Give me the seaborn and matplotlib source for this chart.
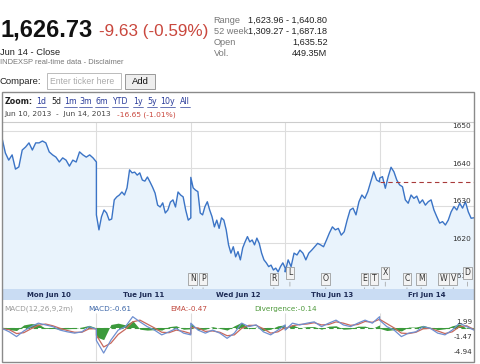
import numpy as np
import pandas as pd
import matplotlib
matplotlib.use("Agg")
import matplotlib.pyplot as plt
import seaborn as sns
from matplotlib.patches import Rectangle
from matplotlib.lines import Line2D

# --- data (S&P 500, 5 day view) ---
day_labels = ["Mon Jun 10", "Tue Jun 11", "Wed Jun 12", "Thu Jun 13", "Fri Jun 14"]

price_mon = [1648.0, 1644.0, 1642.1, 1643.5, 1639.7, 1640.3, 1644.8, 1645.6, 1646.7, 1644.8,
             1646.7, 1646.7, 1647.2, 1646.7, 1644.3, 1643.5, 1642.9, 1641.6, 1642.7, 1642.1,
             1640.5, 1642.1, 1641.6, 1644.3, 1643.5, 1642.9, 1643.5, 1642.7, 1641.6]
price_tue = [1627.5, 1623.5, 1627.0, 1628.8, 1628.0, 1626.1, 1626.4, 1631.5, 1632.3, 1632.8,
             1633.6, 1632.8, 1634.7, 1639.5, 1638.7, 1638.9, 1638.1, 1638.7, 1636.8, 1636.5,
             1637.6, 1636.3, 1634.9, 1633.3, 1630.1, 1629.6, 1630.7, 1628.0, 1628.8, 1630.9,
             1631.5, 1629.6, 1633.6, 1632.8, 1632.3, 1628.8, 1626.1, 1626.7]
price_wed = [1637.5, 1634.7, 1634.1, 1633.7, 1628.0, 1627.5, 1629.7, 1631.0, 1628.8, 1627.0,
             1624.3, 1626.1, 1623.9, 1626.7, 1626.1, 1623.5, 1619.5, 1617.3, 1619.0, 1616.3,
             1617.7, 1615.5, 1618.7, 1620.3, 1621.7, 1620.3, 1620.8, 1619.5, 1621.3, 1619.9,
             1617.3, 1615.5, 1614.7, 1613.7, 1614.1, 1612.8, 1613.3, 1612.3, 1613.7, 1614.7,
             1613.3]
price_thu = [1612.3, 1615.5, 1613.7, 1617.3, 1616.8, 1618.1, 1617.3, 1615.5, 1617.3, 1618.1,
             1619.0, 1619.9, 1619.5, 1619.0, 1620.8, 1622.7, 1624.3, 1623.5, 1623.9, 1622.1,
             1623.0, 1626.1, 1628.8, 1629.3, 1627.5, 1631.0, 1632.8, 1631.9, 1633.7, 1636.3,
             1639.0, 1636.8, 1636.3]
price_fri = [1637.3, 1637.7, 1634.6, 1637.7, 1640.2, 1639.0, 1636.8, 1635.5, 1635.0, 1631.5,
             1630.6, 1632.8, 1631.9, 1632.5, 1630.6, 1631.5, 1630.1, 1631.0, 1631.5, 1628.8,
             1627.0, 1625.3, 1625.7, 1624.8, 1626.1, 1628.3, 1629.7, 1628.8, 1630.6, 1629.3,
             1631.0, 1628.3, 1626.6, 1626.73]
prev_close = 1636.36
price_ticks = [1610, 1620, 1630, 1640, 1650]

macd_vals = [-0.2, -1.0, -2.1, -0.8, 0.2, 1.0, 0.6, 0.2, -0.6, -1.0, -1.3, -1.0, 0.2, -0.4,
             -3.0, -5.9, -2.9, -0.6, 0.2, 2.5, 1.3, 0.2, -0.6, -1.7, -1.0, -0.2, -1.3, -1.7,
             1.0, -0.6, -1.3, -0.6, -1.3, -2.5, -1.3, 1.0, 0.2, 0.6, -1.0, -1.7, -0.6, 0.6,
             -0.6, 1.0, 0.6, 1.0, 1.3, 0.2, 1.0, 1.7, 0.6, 0.2, 1.0, 1.7, 1.0, 2.5,
             1.7, 0.2, -0.6, -2.1, -1.3, -1.0, 0.2, -0.2, -1.3, -1.7, -0.6, 1.0, 0.2, -0.61]
ema_vals = [-0.3, -0.5, -1.4, -1.2, -0.3, 0.5, 0.8, 0.4, -0.2, -0.7, -1.1, -1.1, -0.3, -0.3,
            -1.8, -4.5, -3.6, -1.6, -0.4, 1.3, 1.7, 0.8, -0.1, -1.1, -1.2, -0.6, -0.9, -1.4,
            0.0, -0.1, -0.9, -0.8, -1.1, -1.9, -1.7, -0.2, 0.5, 0.5, -0.3, -1.3, -1.0, 0.0,
            -0.2, 0.4, 0.7, 0.8, 1.1, 0.6, 0.7, 1.3, 1.0, 0.5, 0.7, 1.4, 1.2, 1.9,
            1.9, 0.9, -0.1, -1.3, -1.4, -1.1, -0.3, -0.2, -0.8, -1.4, -1.0, 0.2, 0.4, -0.47]
div_vals = [0.1, -0.5, -0.7, 0.6, 0.9, 0.8, -0.2, -0.2, -0.4, -0.3, -0.2, 0.1, 0.5, -0.1,
            -2.2, -2.8, 0.7, 1.0, 0.6, 1.6, -0.4, -0.6, -0.5, -0.6, 0.2, 0.4, -0.4, -0.3,
            1.0, -0.5, -0.4, 0.2, -0.2, -0.6, 0.4, 1.2, -0.3, 0.1, -0.7, -0.4, 0.4, 0.6,
            -0.4, 0.6, -0.1, 0.2, 0.2, -0.4, 0.3, 0.4, -0.4, -0.3, 0.3, 0.3, -0.2, 0.6,
            -0.2, -0.7, -0.5, -0.8, 0.1, 0.1, 0.5, 0.0, -0.5, -0.3, 0.4, 0.8, -0.2, -0.14]
macd_ticks = [1.99, -1.47, -4.94]

# news flags: letter and time (in trading days since Mon open)
flag_letters = ["N", "P", "R", "L", "O", "E", "T", "X", "C", "M", "W", "V", "D"]
flag_times = [2.02, 2.13, 2.88, 3.05, 3.43, 3.84, 3.94, 4.06, 4.29, 4.44, 4.68, 4.78, 4.93]
raised_flags = {"L", "X", "D"}

zoom_links = ["1d", "5d", "1m", "3m", "6m", "YTD", "1y", "5y", "10y", "All"]

W, H = 480, 364


def rect(x0, y0, x1, y1):
    return [x0 / W, 1 - y1 / H, (x1 - x0) / W, (y1 - y0) / H]


def fx(x):
    return x / W


def fy(y):
    return 1 - y / H


sns.set_theme(style="white")
plt.rcParams["font.family"] = ["DejaVu Sans"]
HDR = ["Liberation Sans", "DejaVu Sans"]

frames = []
for i, vals in enumerate([price_mon, price_tue, price_wed, price_thu, price_fri]):
    frames.append(pd.DataFrame({"t": i + np.linspace(0, 1, len(vals)), "price": vals}))
df = pd.concat(frames, ignore_index=True)

n_per_day = len(macd_vals) // 5
mt = np.concatenate([i + np.linspace(0, 1, n_per_day) for i in range(5)])
mdf = pd.DataFrame({"t": mt, "macd": macd_vals, "ema": ema_vals, "div": div_vals})

fig = plt.figure(figsize=(4.8, 3.64), dpi=100)
fig.patch.set_facecolor("white")

# ---------- page header ----------
fig.text(fx(0), fy(36), "1,626.73", fontsize=17, weight="bold", family=HDR, color="#111")
fig.text(fx(99), fy(36), "-9.63 (-0.59%)", fontsize=12.3, family=HDR, color="#c9473d")
fig.text(fx(0), fy(55), "Jun 14 - Close", fontsize=6.7, family=HDR, color="#222")
fig.text(fx(0), fy(63.5), "INDEXSP real-time data - Disclaimer", fontsize=5.4, family=HDR, color="#777")

info_rows = [("Range", "1,623.96 - 1,640.80"), ("52 week", "1,309.27 - 1,687.18"),
             ("Open", "1,635.52"), ("Vol.", "449.35M")]
for k, (lab, val) in enumerate(info_rows):
    yb = 23 + k * 11
    fig.text(fx(213.5), fy(yb), lab, fontsize=6.6, family=HDR, color="#777")
    fig.text(fx(327.5), fy(yb), val, fontsize=6.6, family=HDR, color="#222", ha="right")

fig.text(fx(0), fy(84), "Compare:", fontsize=6.8, family=HDR, color="#222")
fig.add_artist(Rectangle((fx(47), fy(89)), 74 / W, 16 / H, transform=fig.transFigure,
                         fc="white", ec="#bbbbbb", lw=0.7))
fig.text(fx(50), fy(84), "Enter ticker here", fontsize=6.2, family=HDR, color="#aaaaaa")
fig.add_artist(Rectangle((fx(125), fy(89)), 30 / W, 15 / H, transform=fig.transFigure,
                         fc="#eeeeee", ec="#999999", lw=0.7))
fig.text(fx(140), fy(84), "Add", fontsize=6.8, family=HDR, color="#111", ha="center")

# ---------- chart box ----------
fig.add_artist(Rectangle((fx(2), fy(362)), 472 / W, 270 / H, transform=fig.transFigure,
                         fc="none", ec="#8a8a8a", lw=1.0, zorder=10))

fig.text(fx(4.5), fy(104), "Zoom:", fontsize=5.7, weight="bold", color="#222")
link_x = [36, 51, 64, 79, 95, 112, 133, 147, 160, 180]
link_texts = []
for lab, xz in zip(zoom_links, link_x):
    col = "#222" if lab == "5d" else "#2a3c9a"
    tt = fig.text(fx(xz), fy(104), lab, fontsize=5.7, color=col)
    if lab != "5d":
        link_texts.append(tt)
fig.text(fx(4.5), fy(116), "Jun 10, 2013  -  Jun 14, 2013", fontsize=5.4, color="#444")
fig.text(fx(117), fy(116), "-16.65 (-1.01%)", fontsize=5.4, color="#c9473d")

# ---------- price panel ----------
ymin_p, ymax_p = 1607.73, 1652.27
ax = fig.add_axes(rect(2, 122, 474, 289))
ax.set_facecolor("white")
ax.set_xlim(0, 5)
ax.set_ylim(ymin_p, ymax_p)
ax.hlines(price_ticks, 0, 5, color="#dddddd", lw=0.8, zorder=0)
ax.vlines([1, 2, 3, 4], ymin_p, ymax_p, color="#dddddd", lw=0.8, zorder=0)
ax.fill_between(df["t"], df["price"], ymin_p, color="#e9f3fc", lw=0, zorder=1)
sns.lineplot(data=df, x="t", y="price", estimator=None, sort=False,
             color="#3b74c6", lw=1.0, ax=ax, zorder=3)
ax.hlines(prev_close, 4, 5, color="#a83a3a", lw=0.8, linestyles=(0, (4, 3)), zorder=4)
for v in price_ticks:
    ax.text(4.97, v + 0.35, str(v), fontsize=5.3, color="#333", ha="right", va="bottom", zorder=5)
for lab, t in zip(flag_letters, flag_times):
    ty = 1612.0 if lab in raised_flags else 1610.5
    ax.annotate(lab, xy=(t, ymin_p), xytext=(t, ty), textcoords="data",
                fontsize=5.6, color="#333", ha="center", va="center", zorder=6,
                bbox=dict(boxstyle="square,pad=0.2", fc="#f3f3f3", ec="#8c8c8c", lw=0.5),
                arrowprops=dict(arrowstyle="-", color="#9a9a9a", lw=0.5))
ax.set_xticks([])
ax.set_yticks([])
ax.set_xlabel("")
ax.set_ylabel("")
for s in ["left", "right", "bottom"]:
    ax.spines[s].set_visible(False)
ax.spines["top"].set_color("#cccccc")
ax.spines["top"].set_linewidth(0.8)

# ---------- date band ----------
bax = fig.add_axes(rect(2, 289, 474, 300))
bax.set_facecolor("#c9dcf3")
bax.set_xlim(0, 5)
bax.set_ylim(0, 1)
for i, lab in enumerate(day_labels):
    bax.text(i + 0.5, 0.48, lab, fontsize=5.0, weight="bold", color="#1d2b55", ha="center", va="center")
bax.set_xticks([])
bax.set_yticks([])
for s in bax.spines.values():
    s.set_visible(False)

# ---------- MACD panel ----------
fig.text(fx(4.5), fy(311), "MACD(12,26,9,2m)", fontsize=5.2, color="#999999")
fig.text(fx(88), fy(311), "MACD:-0.61", fontsize=5.2, color="#3c66a8")
fig.text(fx(170), fy(311), "EMA:-0.47", fontsize=5.2, color="#c0473c")
fig.text(fx(254), fy(311), "Divergence:-0.14", fontsize=5.2, color="#4f9a3c")

mx = fig.add_axes(rect(2, 313, 474, 361))
mx.set_facecolor("white")
mx.set_xlim(0, 5)
m_top, m_bot = (327.5 - 313) / 4.33, (327.5 - 361) / 4.33
mx.set_ylim(m_bot, m_top)
mx.vlines([1, 2, 3, 4], m_bot, m_top, color="#dddddd", lw=0.8, zorder=0)
mx.fill_between(mdf["t"], mdf["div"], 0, color="#3c9a3c", lw=0, zorder=2)
mx.axhline(0, color="#3c9a3c", lw=0.8, ls=(0, (4, 3)), zorder=3)
sns.lineplot(data=mdf, x="t", y="ema", estimator=None, sort=False, color="#c8685c", lw=0.9, ax=mx, zorder=4)
sns.lineplot(data=mdf, x="t", y="macd", estimator=None, sort=False, color="#6f8fd0", lw=0.9, ax=mx, zorder=5)
for v in macd_ticks:
    mx.text(4.985, v, f"{v:.2f}", fontsize=5.2, color="#333", ha="right", va="top", zorder=6)
mx.set_xticks([])
mx.set_yticks([])
mx.set_xlabel("")
mx.set_ylabel("")
for s in mx.spines.values():
    s.set_visible(False)

# underline the zoom links
fig.canvas.draw()
inv = fig.transFigure.inverted()
for tt in link_texts:
    bb = tt.get_window_extent()
    (x0, y0), (x1, _) = inv.transform([(bb.x0, bb.y0 - 0.5), (bb.x1, bb.y0)])
    fig.add_artist(Line2D([x0, x1], [y0, y0], transform=fig.transFigure, color="#2a3c9a", lw=0.5))

fig.savefig("out.png", dpi=100)
